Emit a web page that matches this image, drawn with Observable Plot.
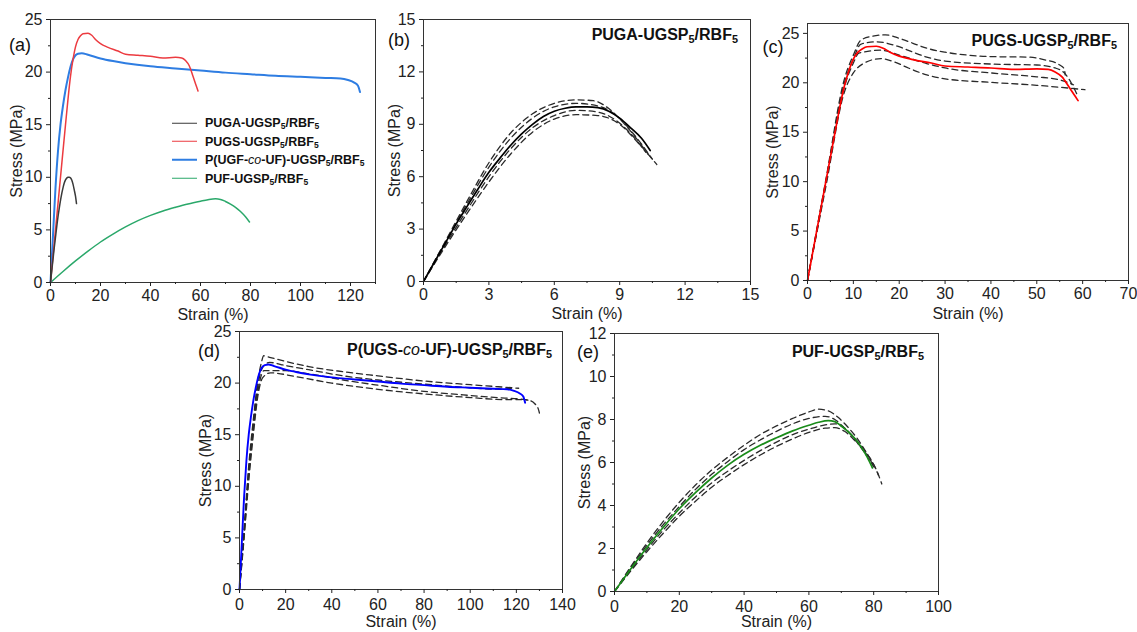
<!DOCTYPE html>
<html>
<head>
<meta charset="utf-8">
<script src="https://cdn.jsdelivr.net/npm/d3@7"></script>
<script src="https://cdn.jsdelivr.net/npm/@observablehq/plot@0.6"></script>
<style>
  html, body { margin: 0; padding: 0; background: white; }
  #fig { position: relative; width: 1137px; height: 632px; background: white; font-family: 'Liberation Sans', Arial, Helvetica, sans-serif; color: #111; overflow: hidden; }
  .lbl { position: absolute; font-size: 18px; line-height: 1; transform: translate(-50%, -50%); white-space: nowrap; }
  .ttl { position: absolute; font-size: 16px; font-weight: bold; line-height: 1; transform: translateY(-50%); white-space: nowrap; }
  .ttl sub, .leg sub { font-size: 0.68em; vertical-align: -0.3em; line-height: 0; }
  .leg { position: absolute; font-size: 12.5px; font-weight: bold; line-height: 1; white-space: nowrap; }
  .leg .row { position: absolute; left: 0; transform: translateY(-50%); display: flex; align-items: center; }
  .leg .sw { display: inline-block; width: 25px; margin-right: 8px; }
</style>
</head>
<body>
<div id="fig"></div>
<script>
// ---------- Tick values ----------
const ticksA_x = [0, 20, 40, 60, 80, 100, 120];
const minorA_x = [10, 30, 50, 70, 90, 110, 130];
const ticksA_y = [0, 5, 10, 15, 20, 25];
const minorA_y = [2.5, 7.5, 12.5, 17.5, 22.5];
const ticksB = [0, 3, 6, 9, 12, 15];
const minorB = [1.5, 4.5, 7.5, 10.5, 13.5];
const ticksC_x = [0, 10, 20, 30, 40, 50, 60, 70];
const minorC_x = [5, 15, 25, 35, 45, 55, 65];
const ticksC_y = [0, 5, 10, 15, 20, 25];
const minorC_y = [2.5, 7.5, 12.5, 17.5, 22.5];
const ticksD_x = [0, 20, 40, 60, 80, 100, 120, 140];
const minorD_x = [10, 30, 50, 70, 90, 110, 130];
const ticksD_y = [0, 5, 10, 15, 20, 25];
const minorD_y = [2.5, 7.5, 12.5, 17.5, 22.5];
const ticksE_x = [0, 20, 40, 60, 80, 100];
const minorE_x = [10, 30, 50, 70, 90];
const ticksE_y = [0, 2, 4, 6, 8, 10, 12];
const minorE_y = [1, 3, 5, 7, 9, 11];

// ---------- Series: [strain %, stress MPa] ----------
const pugaMean = [[0,0],[0.5,1.1],[1,2.2],[1.5,3.3],[2,4.3],[2.5,5.3],[3,6.25],[3.5,7.05],[4,7.8],[4.5,8.45],[5,9.0],[5.5,9.45],[6,9.75],[6.5,9.92],[7,10.0],[7.5,10.0],[8,9.95],[8.5,9.75],[9,9.35],[9.5,8.8],[10,8.2],[10.4,7.5]];
const pugaD1 = [[0,0],[1,2.3],[2,4.6],[3,6.8],[4,8.5],[5,9.6],[6,10.2],[7,10.4],[7.8,10.35],[8.5,9.9],[9.3,8.9],[10.3,7.3]];
const pugaD2 = [[0,0],[1,2.25],[2,4.45],[3,6.55],[4,8.2],[5,9.35],[6,10.0],[7,10.2],[8,10.05],[8.8,9.55],[9.6,8.5],[10.5,7.0]];
const pugaD3 = [[0,0],[1,2.1],[2,4.1],[3,6.0],[4,7.6],[5,8.8],[6,9.5],[7,9.8],[8,9.7],[8.8,9.25],[9.4,8.6],[10.2,7.4]];
const pugaD4 = [[0,0],[1,2.0],[2,3.9],[3,5.7],[4,7.3],[5,8.55],[6,9.3],[7,9.55],[8,9.5],[9,9.0],[9.8,8.0],[10.7,6.7]];

const pugsMean = [[0,0],[2,5],[4,10],[6,15],[8,19.6],[9,21.2],[10,22.4],[11,23.1],[12,23.45],[13,23.65],[15,23.7],[16.5,23.5],[18,23.1],[20,22.7],[23,22.35],[27,22.0],[30,21.7],[35,21.6],[40,21.5],[45,21.35],[50,21.4],[52.5,21.35],[54,21.1],[55.5,20.6],[57,19.6],[58,18.9],[59,18.2]];
const pugsD1 = [[0,0],[4,10.2],[8,20.3],[10,22.8],[11.6,24.3],[14,24.7],[17,24.85],[20,24.5],[23,24.0],[26,23.5],[30,23.1],[35,22.8],[40,22.65],[48,22.6],[52,22.3],[55,21.8],[56,21.4],[56.2,20.8]];
const pugsD2 = [[0,0],[4,10.0],[8,19.9],[10,22.4],[11.6,23.9],[15,24.15],[19.6,23.7],[23,23.1],[26,22.6],[30,22.2],[40,21.9],[50,21.8],[54,21.5],[56,21.0],[57.5,20.0],[59,18.6]];
const pugsD3 = [[0,0],[4,9.8],[8,19.5],[10,22.0],[11.2,23.0],[16,23.3],[20,22.8],[26,21.95],[30,21.5],[40,21.0],[50,20.6],[55,20.3],[58,19.8]];
const pugsD4 = [[0,0],[4,9.5],[8,19.0],[10,21.0],[12,21.9],[16,22.45],[19,22.1],[22,21.5],[26,20.8],[30,20.4],[40,20.05],[50,19.75],[55,19.55],[60.5,19.3]];

const pcoMean = [[0,0],[1,4.5],[2,9],[3,12.5],[4,15],[5,16.8],[6,18.3],[7,19.5],[8,20.5],[9,21.2],[10,21.6],[11,21.75],[12.5,21.8],[15,21.65],[20,21.3],[25,21.05],[30,20.85],[40,20.55],[50,20.35],[60,20.15],[70,19.95],[80,19.8],[90,19.65],[100,19.55],[110,19.45],[116,19.4],[119,19.25],[121.5,19.0],[123,18.7],[123.8,18.1]];
const pcoD1 = [[0,0],[2,6],[4,12],[6,16.5],[8,20.3],[9.5,22.0],[10.5,22.65],[13,22.5],[20,22.1],[30,21.6],[45,21.1],[60,20.7],[80,20.2],[100,19.85],[115,19.6],[121,19.5]];
const pcoD2 = [[0,0],[2,5.6],[4,11.5],[6,16],[8,19.8],[10,21.5],[13,22.0],[20,21.7],[30,21.3],[45,20.7],[60,20.3],[80,19.9],[100,19.55],[113,19.4],[118,19.5]];
const pcoD3 = [[0,0],[2,5.3],[4,11],[6,15.5],[8,19.2],[9.5,20.8],[10.5,21.2],[20,21.2],[30,20.9],[45,20.3],[60,19.8],[80,19.2],[100,18.8],[115,18.55],[122,18.45],[126,18.3],[128,18.0],[129.5,17.5],[130,17.1]];
const pcoD4 = [[0,0],[2,5],[4,10.5],[6,15],[8,18.8],[10,20.5],[13.4,21.0],[25,20.6],[40,20.0],[60,19.4],[80,18.95],[100,18.6],[115,18.4],[123,18.4],[125,18.35]];

const pufMean = [[0,0],[5,1.05],[10,2.05],[15,2.98],[20,3.85],[25,4.6],[30,5.28],[35,5.88],[40,6.38],[45,6.8],[50,7.15],[55,7.47],[60,7.73],[63,7.87],[66,7.95],[68,7.9],[70,7.7],[72,7.45],[74,7.15],[76,6.75],[78,6.25],[79.6,5.75]];
const pufD1 = [[0,0],[5,1.15],[10,2.25],[15,3.25],[20,4.15],[25,4.95],[30,5.65],[35,6.25],[40,6.8],[45,7.3],[50,7.7],[55,8.05],[60,8.35],[63,8.48],[66,8.4],[69,8.1],[72,7.65],[75,7.1],[78,6.4],[81,5.6],[82.5,5.0]];
const pufD2 = [[0,0],[5,1.1],[10,2.15],[15,3.1],[20,3.95],[25,4.75],[30,5.45],[35,6.05],[40,6.6],[45,7.05],[50,7.45],[55,7.8],[60,8.05],[65,8.15],[68,8.0],[71,7.6],[74,7.1],[77,6.5],[80,5.8]];
const pufD3 = [[0,0],[5,1.0],[10,1.95],[15,2.85],[20,3.65],[25,4.4],[30,5.05],[35,5.6],[40,6.1],[45,6.55],[50,6.95],[55,7.3],[60,7.55],[65,7.75],[68,7.8],[71,7.6],[74,7.15],[77,6.6],[80,5.9],[81.5,5.4]];
const pufD4 = [[0,0],[5,0.95],[10,1.85],[15,2.7],[20,3.5],[25,4.2],[30,4.85],[35,5.4],[40,5.9],[45,6.35],[50,6.75],[55,7.1],[60,7.4],[65,7.6],[68,7.62],[71,7.45],[74,7.05],[77,6.55],[80,5.85]];

const seriesNames = ["PUGA-UGSP<sub>5</sub>/RBF<sub>5</sub>", "PUGS-UGSP<sub>5</sub>/RBF<sub>5</sub>", "P(UGF-<i style=\"font-weight:normal\">co</i>-UF)-UGSP<sub>5</sub>/RBF<sub>5</sub>", "PUF-UGSP<sub>5</sub>/RBF<sub>5</sub>"];
const seriesColorsA = ["#3a3a3a", "#ec3b40", "#2e7de2", "#2aa86a"];

// ---------- Drawing ----------
const fig = document.getElementById("fig");
const DASH = "#2a2a2a";

function panel(cfg) {
  const [mt, mr, mb, ml] = cfg.margin;
  const lines = cfg.series.map(s => Plot.line(s.data, {
    x: d => d[0], y: d => d[1], stroke: s.color, strokeWidth: s.width,
    strokeDasharray: s.dash || null, curve: "monotone-x"
  }));
  const svg = Plot.plot({
    width: cfg.width, height: cfg.height,
    marginTop: mt, marginRight: mr, marginBottom: mb, marginLeft: ml,
    x: {domain: cfg.xDomain},
    y: {domain: cfg.yDomain},
    style: {background: "transparent", overflow: "visible", fontFamily: "'Liberation Sans', Arial, Helvetica, sans-serif", fontSize: "16px", color: "#222"},
    marks: [
      ...lines,
      Plot.frame({stroke: "#333", strokeWidth: 1}),
      Plot.axisX(cfg.xTicks, {tickSize: 4, tickPadding: cfg.xPad, fontSize: 16, tickFormat: d => String(d), label: "Strain (%)", labelAnchor: "center", labelArrow: "none", labelOffset: cfg.xLabelOffset}),
      Plot.axisX(cfg.xMinor, {tickSize: 2, text: null, label: null}),
      Plot.axisY(cfg.yTicks, {tickSize: 4, tickPadding: 4, fontSize: 16, tickFormat: d => String(d), label: "Stress (MPa)", labelAnchor: "center", labelArrow: "none", labelOffset: cfg.yLabelOffset}),
      Plot.axisY(cfg.yMinor, {tickSize: 2, text: null, label: null})
    ]
  });
  svg.style.position = "absolute";
  svg.style.left = cfg.left + "px";
  svg.style.top = cfg.top + "px";
  fig.appendChild(svg);
}

function dashed(arrs) { return arrs.map(a => ({data: a, color: DASH, width: 1.3, dash: "6,4"})); }

// (a)
panel({left: 0, top: 0, width: 380, height: 322, margin: [19, 5, 40, 50],
  xDomain: [0, 130], yDomain: [0, 25], xTicks: ticksA_x, xMinor: minorA_x, yTicks: ticksA_y, yMinor: minorA_y,
  xPad: 3, xLabelOffset: 37.5, yLabelOffset: 40,
  series: [
    {data: pufMean, color: seriesColorsA[3], width: 1.5},
    {data: pcoMean, color: seriesColorsA[2], width: 2},
    {data: pugsMean, color: seriesColorsA[1], width: 1.5},
    {data: pugaMean, color: seriesColorsA[0], width: 1.5}
  ]});
// (b)
panel({left: 380, top: 0, width: 380, height: 322, margin: [19, 10, 41, 43],
  xDomain: [0, 15], yDomain: [0, 15], xTicks: ticksB, xMinor: minorB, yTicks: ticksB, yMinor: minorB,
  xPad: 3, xLabelOffset: 37.5, yLabelOffset: 35,
  series: [...dashed([pugaD1, pugaD2, pugaD3, pugaD4]), {data: pugaMean, color: "#000", width: 1.7}]});
// (c)
panel({left: 760, top: 0, width: 377, height: 322, margin: [23, 9, 42, 47],
  xDomain: [0, 70], yDomain: [0, 26], xTicks: ticksC_x, xMinor: minorC_x, yTicks: ticksC_y, yMinor: minorC_y,
  xPad: 3, xLabelOffset: 38.5, yLabelOffset: 41,
  series: [...dashed([pugsD1, pugsD2, pugsD3, pugsD4]), {data: pugsMean, color: "#ff0000", width: 1.7}]});
// (d)
panel({left: 190, top: 322, width: 380, height: 310, margin: [9, 8, 43, 49],
  xDomain: [0, 140], yDomain: [0, 25], xTicks: ticksD_x, xMinor: minorD_x, yTicks: ticksD_y, yMinor: minorD_y,
  xPad: 5, xLabelOffset: 37, yLabelOffset: 39.5,
  series: [...dashed([pcoD1, pcoD2, pcoD3, pcoD4]), {data: pcoMean, color: "#0000ff", width: 1.9}]});
// (e)
panel({left: 570, top: 322, width: 380, height: 310, margin: [11, 12, 41, 44],
  xDomain: [0, 100], yDomain: [0, 12], xTicks: ticksE_x, xMinor: minorE_x, yTicks: ticksE_y, yMinor: minorE_y,
  xPad: 5, xLabelOffset: 35, yLabelOffset: 36,
  series: [...dashed([pufD1, pufD2, pufD3, pufD4]), {data: pufMean, color: "#1a8c1a", width: 1.7}]});

// ---------- Panel letters & titles ----------
function addDiv(cls, html, style) {
  const d = document.createElement("div");
  d.className = cls; d.innerHTML = html;
  Object.assign(d.style, style);
  fig.appendChild(d);
  return d;
}
const letters = [["(a)", 20, 45], ["(b)", 399, 40], ["(c)", 773, 47], ["(d)", 209, 351], ["(e)", 588, 352]];
letters.forEach(([t, x, y]) => addDiv("lbl", t, {left: x + "px", top: y + "px"}));

const titles = [
  ["PUGA-UGSP<sub>5</sub>/RBF<sub>5</sub>", 738, 35],
  ["PUGS-UGSP<sub>5</sub>/RBF<sub>5</sub>", 1117, 41],
  ["P(UGS-<i style=\"font-weight:normal\">co</i>-UF)-UGSP<sub>5</sub>/RBF<sub>5</sub>", 552, 350],
  ["PUF-UGSP<sub>5</sub>/RBF<sub>5</sub>", 924, 352]
];
titles.forEach(([t, xr, y]) => addDiv("ttl", t, {right: (1137 - xr) + "px", top: y + "px"}));

// ---------- Legend (a) ----------
const leg = addDiv("leg", "", {left: "172px", top: "0px"});
const rowY = [123, 141.5, 160, 178.5];
seriesNames.forEach((name, i) => {
  const r = document.createElement("div");
  r.className = "row";
  r.style.top = rowY[i] + "px";
  r.innerHTML = `<span class="sw" style="border-top:${i === 2 ? 2.2 : 1.5}px solid ${seriesColorsA[i]}"></span><span>${name}</span>`;
  leg.appendChild(r);
});
</script>
</body>
</html>
